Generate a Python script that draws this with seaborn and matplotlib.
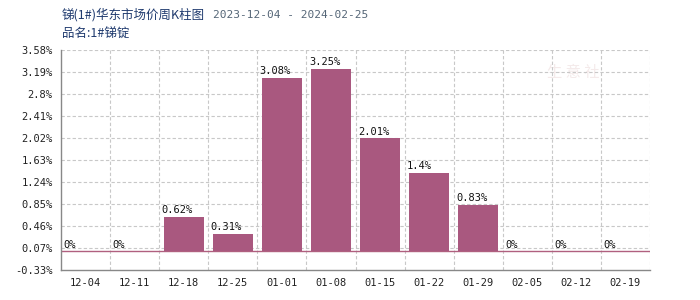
import numpy as np
import pandas as pd
import matplotlib
matplotlib.use("Agg")
import matplotlib.pyplot as plt
import seaborn as sns

weeks = ["12-04", "12-11", "12-18", "12-25", "01-01", "01-08", "01-15",
         "01-22", "01-29", "02-05", "02-12", "02-19"]
values = [0, 0, 0.62, 0.31, 3.08, 3.25, 2.01, 1.4, 0.83, 0, 0, 0]
labels = ["0%", "0%", "0.62%", "0.31%", "3.08%", "3.25%", "2.01%", "1.4%",
          "0.83%", "0%", "0%", "0%"]
ytick_labels = ["-0.33%", "0.07%", "0.46%", "0.85%", "1.24%", "1.63%",
                "2.02%", "2.41%", "2.8%", "3.19%", "3.58%"]
title = "锑(1#)华东市场价周K柱图"
date_range = "2023-12-04 - 2024-02-25"
subtitle = "品名:1#锑锭"

sns.set_style("white")
plt.rcParams['font.family'] = ['Noto Sans CJK SC', 'DejaVu Sans']

df = pd.DataFrame({"week": weeks, "value": values})
bar_color = "#A9587F"

fig = plt.figure(figsize=(7, 3), dpi=100)
ax = fig.add_axes([61/700, 30/300, 589/700, 220/300])

sns.barplot(data=df, x="week", y="value", color=bar_color, width=0.82,
            saturation=1, linewidth=0, ax=ax, zorder=3)

ymin, ymax = -0.33, 3.58
ax.set_ylim(ymin, ymax)
ax.set_xlim(-0.5, len(weeks) - 0.5)
ticks = np.linspace(ymin, ymax, len(ytick_labels))
ax.set_yticks(ticks)
ax.set_yticklabels(ytick_labels, family='DejaVu Sans Mono', fontsize=7.5, color='#222222')
ax.set_xticks(range(len(weeks)))
ax.set_xticklabels(weeks, family='DejaVu Sans Mono', fontsize=7.5, color='#222222')
ax.tick_params(axis='both', length=0, pad=6)
ax.set_xlabel("")
ax.set_ylabel("")

# grid
for t in ticks[1:]:
    ax.axhline(t, color='#C8C8C8', lw=0.8, ls=(0, (3, 2)), zorder=1)
for i in range(1, len(weeks) + 1):
    ax.axvline(i - 0.5, color='#C8C8C8', lw=0.8, ls=(0, (3, 2)), zorder=1)
ax.axhline(0, color='#B0607F', lw=1.0, zorder=2)

for s in ['top', 'right']:
    ax.spines[s].set_visible(False)
for s in ['left', 'bottom']:
    ax.spines[s].set_color('#888888')
    ax.spines[s].set_linewidth(1.0)

for p, lab in zip(ax.patches, labels):
    x0 = p.get_x()
    h = p.get_height()
    ax.text(x0 - 0.04, h + 0.03, lab, ha='left', va='bottom',
            family='DejaVu Sans Mono', fontsize=7.5, color='#111111', zorder=4)

# watermark
ax.text(0.87, 0.9, "生 意 社", transform=ax.transAxes, ha='center', va='center',
        fontsize=11, color='#F4EAEA', zorder=0)

t1 = fig.text(62/700, 1 - 15/300, title, ha='left', va='center', fontsize=9,
              color='#1F3A6E')
fig.canvas.draw()
bb = t1.get_window_extent()
fig.text((bb.x1 + 8) / 700, 1 - 15/300, date_range, ha='left', va='center',
         fontsize=8, family='DejaVu Sans Mono', color='#556677')
fig.text(62/700, 1 - 34/300, subtitle, ha='left', va='center', fontsize=9,
         color='#1F3A6E')

fig.savefig("out.png", dpi=100)
